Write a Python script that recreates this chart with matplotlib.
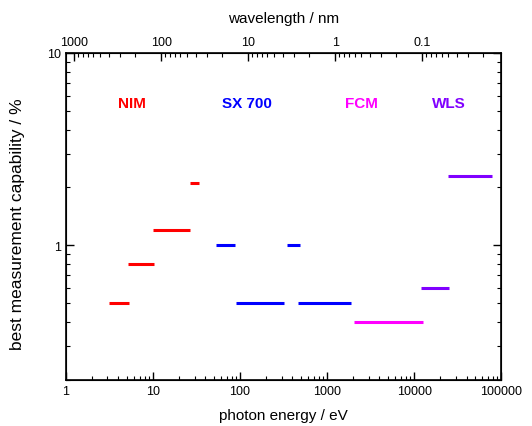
import matplotlib
matplotlib.use("Agg")
import matplotlib.pyplot as plt
from matplotlib.ticker import FuncFormatter, NullFormatter

plt.rcParams['font.family'] = ['Liberation Sans', 'DejaVu Sans']

HC = 1239.84  # eV*nm

# Segments: (E_start, E_end, value)
nim_start = [3.15, 5.1, 10.0, 26.5]
nim_end = [5.3, 10.3, 26.8, 34.0]
nim_val = [0.5, 0.8, 1.2, 2.1]

sx_start = [53.0, 90.0, 344.0, 465.0]
sx_end = [88.0, 318.0, 485.0, 1870.0]
sx_val = [1.0, 0.5, 1.0, 0.5]

fcm_start = [2040.0]
fcm_end = [12600.0]
fcm_val = [0.4]

wls_start = [12000.0, 24400.0]
wls_end = [25500.0, 78000.0]
wls_val = [0.6, 2.3]

groups = [
    ("NIM", "#ff0000", nim_start, nim_end, nim_val, 5.7),
    ("SX 700", "#0000ff", sx_start, sx_end, sx_val, 120.0),
    ("FCM", "#ff00ff", fcm_start, fcm_end, fcm_val, 2460.0),
    ("WLS", "#8000ff", wls_start, wls_end, wls_val, 25300.0),
]
label_y = 5.5

fig = plt.figure(figsize=(5.32, 4.27), dpi=100)
ax = fig.add_axes([0.124, 0.1077, 0.818, 0.766])

for name, col, st, en, va, lx in groups:
    ax.hlines(va, st, en, colors=col, linewidth=2.2)
    ax.text(lx, label_y, name, color=col, fontsize=11, fontweight='bold',
            ha='center', va='center')

ax.set_xscale('log')
ax.set_yscale('log')
ax.set_xlim(1, 1e5)
ax.set_ylim(0.2, 10)

fmt = FuncFormatter(lambda v, p: '%g' % v)
ax.xaxis.set_major_formatter(fmt)
ax.yaxis.set_major_formatter(fmt)
ax.yaxis.set_minor_formatter(NullFormatter())
ax.xaxis.set_minor_formatter(NullFormatter())

ax.tick_params(which='both', direction='in', labelsize=9)
ax.tick_params(which='major', length=6, width=1)
ax.tick_params(which='minor', length=3, width=0.8)
ax.tick_params(axis='y', which='both', left=True, right=True)
ax.tick_params(axis='x', which='both', bottom=True, top=False)

ax.set_xlabel('photon energy / eV', fontsize=11, labelpad=8)
fig.text(18 / 532, 1 - 224 / 427, 'best measurement capability / %',
         fontsize=12.5, rotation=90, ha='center', va='center')

for s in ax.spines.values():
    s.set_linewidth(1.2)

ax2 = ax.twiny()
ax2.set_xscale('log')
ax2.set_xlim(HC / 1.0, HC / 1e5)
ax2.xaxis.set_major_formatter(fmt)
ax2.xaxis.set_minor_formatter(NullFormatter())
ax2.tick_params(which='both', direction='in', labelsize=9)
ax2.tick_params(which='major', length=6, width=1)
ax2.tick_params(which='minor', length=3, width=0.8)
ax2.set_xlabel('wavelength / nm', fontsize=11, labelpad=10)

fig.savefig('out.png', dpi=100)
